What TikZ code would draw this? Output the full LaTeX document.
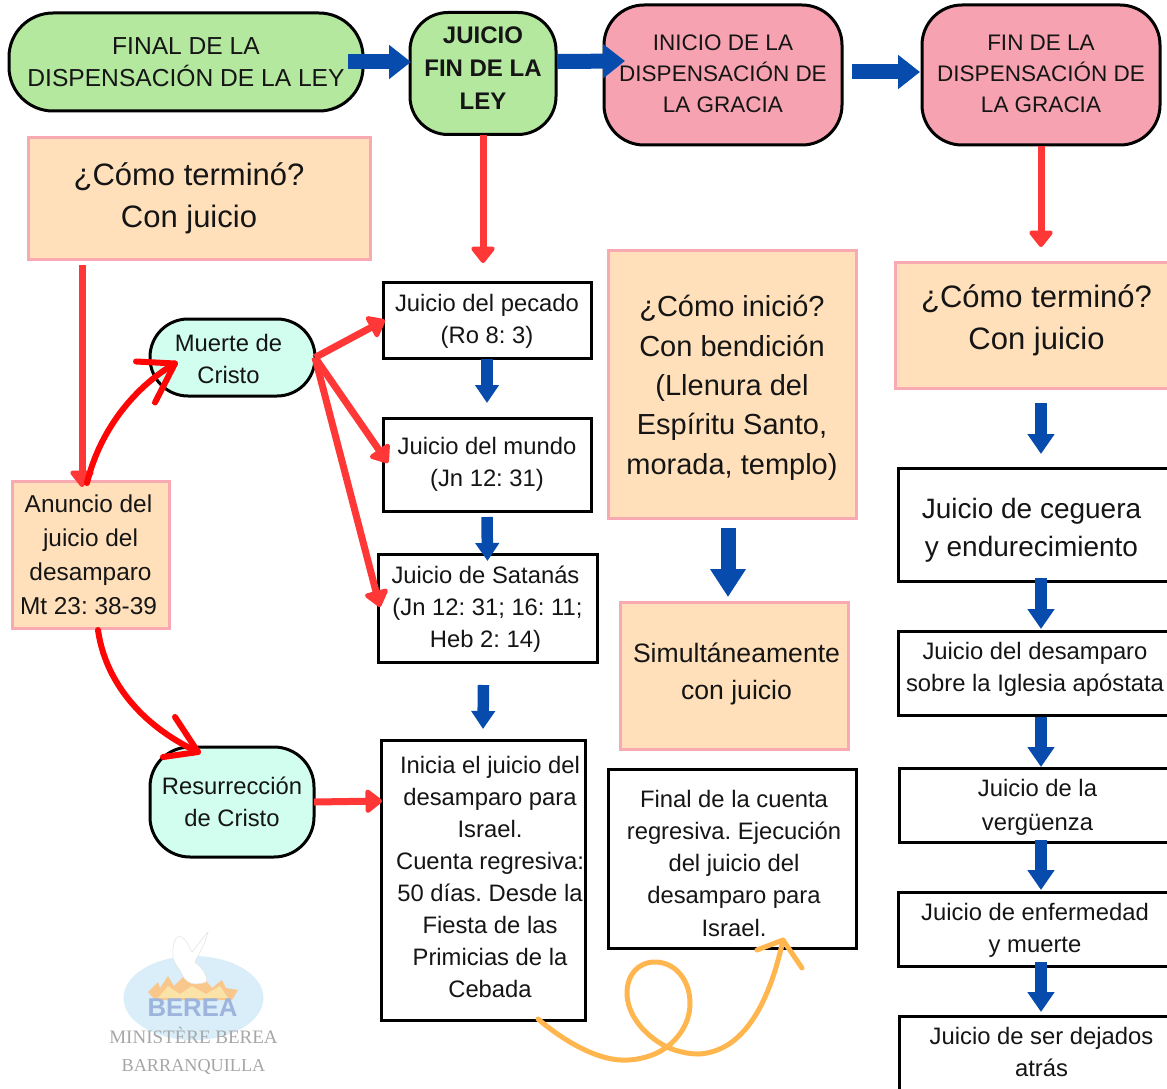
\documentclass[tikz,border=0pt]{standalone}
\usepackage{fontspec}
\setmainfont{Liberation Sans}
\newfontfamily\logoserif{Liberation Serif}
\usetikzlibrary{arrows.meta,calc}
\frenchspacing
\definecolor{cgreen}{HTML}{B3E89E}
\definecolor{cpink}{HTML}{F6A2B0}
\definecolor{cpeach}{HTML}{FFE0BA}
\definecolor{cpeachb}{HTML}{F8A9B2}
\definecolor{cmint}{HTML}{D1FEEE}
\definecolor{cblue}{HTML}{074CAD}
\definecolor{cred}{HTML}{FF3737}
\definecolor{cpure}{HTML}{FF0505}
\definecolor{corange}{HTML}{FFB64F}
\definecolor{ctext}{HTML}{151515}
\definecolor{clogosky}{HTML}{D9EEF9}
\definecolor{clogofl}{HTML}{F9C68C}
\definecolor{clogoyl}{HTML}{FBE3A8}
\definecolor{clogobl}{HTML}{9DB4DC}
\definecolor{clogogr}{HTML}{A6A6A6}
% vertical nudges of a node's text: a taller first line or a deeper last line
\newcommand{\txtdn}[1]{\rule{0pt}{#1pt}}
\newcommand{\txtup}[1]{\rule[-#1pt]{0pt}{#1pt}}
\tikzset{
  base/.style={inner sep=0pt,outer sep=0pt,align=center,text=ctext,font=\fontsize{23.8}{32}\selectfont},
  greenbox/.style={base,draw=black,line width=3pt,fill=cgreen,rounded corners=44pt},
  pinkbox/.style={base,draw=black,line width=3pt,fill=cpink,rounded corners=40pt,font=\fontsize{22.5}{31}\selectfont},
  mintbox/.style={base,draw=black,line width=3pt,fill=cmint,rounded corners=38pt},
  peachbox/.style={base,draw=cpeachb,line width=3pt,fill=cpeach},
  whitebox/.style={base,draw=black,line width=3pt,fill=white},
  big/.style={font=\fontsize{31}{42}\selectfont},
  redarrow/.style={draw=cred,line width=7pt,-{Triangle[length=18pt,width=27pt,round]}},
  blueh/.style={draw=cblue,line width=15pt,-{Triangle[length=22pt,width=33pt]}},
  bluev/.style={draw=cblue,line width=11.5pt,-{Triangle[length=18pt,width=23pt]}},
  bluew/.style={draw=cblue,line width=11.5pt,-{Triangle[length=20pt,width=26pt]}},
  curvered/.style={draw=cpure,line width=6pt,line cap=round,line join=round},
  curveorange/.style={draw=corange,line width=5pt,line cap=round,line join=round},
}
\begin{document}
\begin{tikzpicture}[x=1pt,y=-1pt]
\useasboundingbox (0,0) rectangle (1167,1089);
\clip (0,0) rectangle (1167,1089);
% logo
\fill[clogosky] (193.5,998) ellipse [x radius=70,y radius=42];
\fill[clogofl] (148,992) -- (158,982) -- (160,988) -- (168,976) -- (174,986) -- (184,976) -- (192,984) -- (204,978) -- (212,988) -- (222,980) -- (226,988) -- (238,990) -- (232,1000) -- (155,1000) -- cycle;
\fill[clogoyl] (158,998) -- (168,986) -- (180,994) -- (192,986) -- (206,994) -- (220,986) -- (228,998) -- cycle;
\fill[white,draw=black!10,line width=.6pt] (208,932) .. controls (205,945) and (198,955) .. (195,962) .. controls (205,970) and (208,978) .. (206,982) .. controls (195,986) and (185,984) .. (181,972) .. controls (176,964) and (172,960) .. (173,955) .. controls (172,945) and (176,935) .. (180,936) .. controls (188,940) and (190,950) .. (192,952) .. controls (198,945) and (203,937) .. (208,932) -- cycle;
\node[inner sep=0pt,font=\bfseries\fontsize{25.7}{26}\selectfont,text=clogobl] (logoa) at (192.5,1008) {BEREA};
\node[inner sep=0pt,font=\logoserif\fontsize{19}{19}\selectfont,text=clogogr] (logob) at (193.5,1035) {MINISTÈRE BEREA};
\node[inner sep=0pt,font=\logoserif\fontsize{18.2}{19}\selectfont,text=clogogr] (logoc) at (193.5,1067) {BARRANQUILLA};
% top row
\node[greenbox,minimum width=354pt,minimum height=98pt,font=\fontsize{24.6}{32}\selectfont] (n1) at (186,62) {FINAL DE LA\\DISPENSACIÓN DE LA LEY};
\node[greenbox,minimum width=146pt,minimum height=122pt,rounded corners=38pt,font=\bfseries\fontsize{24}{33}\selectfont] (n2) at (483,73.5) {JUICIO\\FIN DE LA\\LEY\txtup{11}};
\node[pinkbox,minimum width=238pt,minimum height=140pt] (n3) at (723,75) {INICIO DE LA\\DISPENSACIÓN DE\\LA GRACIA\txtup{2}};
\node[pinkbox,minimum width=238pt,minimum height=140pt] (n4) at (1041,75) {FIN DE LA\\DISPENSACIÓN DE\\LA GRACIA\txtup{2}};
% left
\node[peachbox,big,minimum width=342pt,minimum height=121pt] (q1) at (199,198.5) {¿Cómo terminó?\hspace*{20pt}\\Con juicio\hspace*{20pt}};
\node[peachbox,minimum width=157pt,minimum height=147pt,font=\fontsize{24.4}{34}\selectfont] (an) at (90.5,554.5) {Anuncio del\hspace*{4pt}\\juicio del\hspace*{4pt}\\desamparo\hspace*{4pt}\\Mt 23: 38-39\hspace*{4pt}};
\node[mintbox,minimum width=165pt,minimum height=77pt] (mu) at (232.5,357.5) {\txtdn{20}Muerte de\hspace*{8pt}\\Cristo\hspace*{8pt}};
\node[mintbox,minimum width=164pt,minimum height=110pt,rounded corners=40pt] (re) at (232,802) {Resurrección\\de Cristo};
% column 2
\node[whitebox,minimum width=208pt,minimum height=76pt] (p1) at (487,320) {\txtdn{20}Juicio del pecado\\(Ro 8: 3)};
\node[whitebox,minimum width=208pt,minimum height=93pt] (p2) at (487,464.5) {Juicio del mundo\\(Jn 12: 31)};
\node[whitebox,minimum width=219pt,minimum height=108pt] (p3) at (487.5,608) {\txtdn{20}Juicio de Satanás\hspace*{4pt}\\(Jn 12: 31; 16: 11;\hspace*{4pt}\\Heb 2: 14)\hspace*{4pt}};
\node[whitebox,minimum width=204pt,minimum height=280pt] (p4) at (483,880) {\hspace*{14pt}Inicia el juicio del\\\hspace*{14pt}desamparo para\\\hspace*{14pt}Israel.\\\hspace*{14pt}Cuenta regresiva:\\\hspace*{14pt}50 días. Desde la\\\hspace*{14pt}Fiesta de las\\\hspace*{14pt}Primicias de la\\\hspace*{14pt}Cebada\txtup{7}};
% column 3
\node[peachbox,minimum width=248pt,minimum height=268pt,font=\fontsize{29}{39.3}\selectfont] (c1) at (732,384) {\txtdn{29}¿Cómo inició?\\Con bendición\\(Llenura del\\Espíritu Santo,\\morada, templo)};
\node[peachbox,minimum width=228pt,minimum height=147pt,font=\fontsize{26.6}{37}\selectfont] (c2) at (734,675.5) {\hspace*{5pt}Simultáneamente\\\hspace*{5pt}con juicio\txtup{8}};
\node[whitebox,minimum width=248pt,minimum height=179pt,font=\fontsize{23.8}{32.3}\selectfont] (c3) at (732,858.5) {\txtdn{26.5}\hspace*{4pt}Final de la cuenta\\\hspace*{4pt}regresiva. Ejecución\\\hspace*{4pt}del juicio del\\\hspace*{4pt}desamparo para\\\hspace*{4pt}Israel.};
% column 4
\node[peachbox,minimum width=277pt,minimum height=126pt,big] (r1) at (1033.5,325) {\hspace*{6pt}¿Cómo terminó?\\\hspace*{6pt}Con juicio\txtup{15.6}};
\node[whitebox,minimum width=274pt,minimum height=113pt,font=\fontsize{28}{38}\selectfont] (r2) at (1035,524.5) {\txtdn{32.5}Juicio de ceguera\hspace*{7pt}\\y endurecimiento\hspace*{7pt}};
\node[whitebox,minimum width=274pt,minimum height=84pt] (r3) at (1035,673) {Juicio del desamparo\\sobre la Iglesia apóstata\txtup{13}};
\node[whitebox,minimum width=273pt,minimum height=74pt,font=\fontsize{23.8}{34}\selectfont] (r4) at (1035.5,805) {\txtdn{21.5}\hspace*{4pt}Juicio de la\\\hspace*{4pt}vergüenza};
\node[whitebox,minimum width=274pt,minimum height=74pt] (r5) at (1035,929) {\txtdn{20}Juicio de enfermedad\\y muerte};
\node[whitebox,minimum width=273pt,minimum height=90pt] (r6) at (1035.5,1061) {\hspace*{12pt}Juicio de ser dejados\\\hspace*{12pt}atrás\txtup{18}};
% red connectors
\draw[redarrow] ($(q1.south west)+(54,6)$) -- ($(an.north west)+(70,6)$);
\draw[redarrow] ($(n2.south)+(0,1)$) -- ($(p1.north)+(-4,-19)$);
\draw[redarrow] ($(n4.south)+(0,1)$) -- ($(r1.north)+(7.5,-15)$);
\draw[redarrow] (mu.east) -- ($(p1.west)+(2,0)$);
\draw[redarrow] (mu.east) -- ($(p2.west)+(5,-1.5)$);
\draw[redarrow] (mu.east) -- ($(p3.west)+(2,-1)$);
\draw[redarrow] (re.east) -- ($(p4.west)+(1,-79)$);
% curved red
\coordinate (ma) at ($(an.north west)+(75,2)$);
\coordinate (mb) at ($(mu.west)+(25,6)$);
\draw[curvered] (ma) .. controls +(12,-50) and +(-43,25) .. (mb);
\draw[curvered] ($(mb)+(-39,-2)$) -- (mb) -- ($(mb)+(-20,39)$);
\coordinate (ra) at ($(an.south west)+(86,2)$);
\coordinate (rb) at ($(re.north west)+(48,5)$);
\draw[curvered] (ra) .. controls +(7,50) and +(-58,-27) .. (rb);
\draw[curvered] ($(rb)+(-23,-35)$) -- (rb) -- ($(rb)+(-35,5)$);
% blue connectors
\draw[blueh] ($(n1.east)+(-15,0)$) -- ($(n2.west)+(1,-11.5)$);
\draw[blueh] ($(n2.east)+(1,-12)$) -- ($(n3.west)+(21,-14)$);
\draw[blueh] ($(n3.east)+(10,-3)$) -- ($(n4.west)+(-2,-3)$);
\draw[bluev] ($(p1.south)+(0,1)$) -- ($(p2.north)+(0,-15)$);
\draw[bluev] ($(p2.south)+(0,6)$) -- ($(p3.north)+(0,7)$);
\draw[bluev] ($(p3.south)+(-4,23)$) -- ($(p4.north)+(0,-11)$);
\draw[bluev,line width=15pt,-{Triangle[length=28pt,width=34pt]}] ($(c1.south)+(-4,10)$) -- ($(c2.north)+(-6,-5)$);
\draw[bluew] ($(r1.south)+(7.5,15)$) -- ($(r2.north)+(6,-14)$);
\draw[bluew] ($(r2.south)+(6,-3)$) -- ($(r3.north)+(6,-2)$);
\draw[bluew] ($(r3.south)+(6,2)$) -- ($(r4.north)+(5.5,-1)$);
\draw[bluew] ($(r4.south)+(5.5,-2)$) -- ($(r5.north)+(6,-2)$);
\draw[bluew] ($(r5.south)+(6,-4)$) -- ($(r6.north)+(5.5,-4)$);
% orange loop
\coordinate (oa) at ($(p4.south east)+(-47,-1)$);
\coordinate (ob) at ($(c3.south west)+(175,-8)$);
\draw[curveorange] (oa) .. controls (565,1042) and (600,1062) .. (628,1060)
 .. controls (645,1059) and (657,1054) .. (667,1047)
 .. controls (682,1035) and (690,1020) .. (690,1003)
 .. controls (690,980) and (675,962) .. (655,962)
 .. controls (638,962) and (627,975) .. (627,993)
 .. controls (627,1015) and (645,1036) .. (667,1047)
 .. controls (678,1052) and (690,1054) .. (698,1054)
 .. controls (745,1052) and (770,1000) .. (ob);
\draw[curveorange] ($(ob)+(-26,10)$) -- (ob) -- ($(ob)+(19,28)$);
\end{tikzpicture}
\end{document}
